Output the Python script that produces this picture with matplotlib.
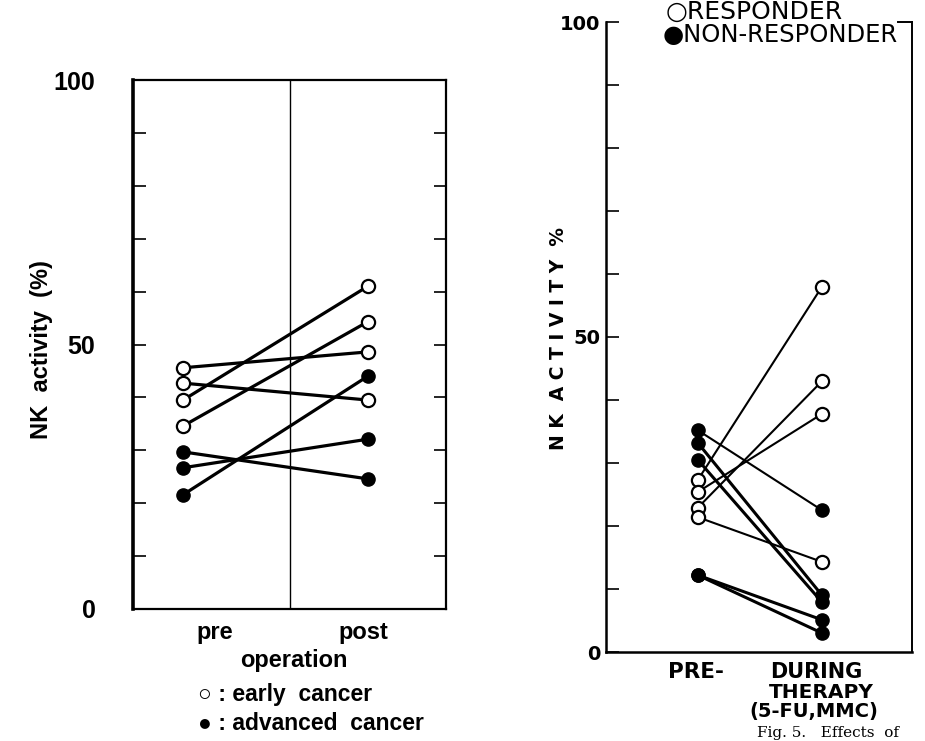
import numpy as np
import matplotlib
matplotlib.use('Agg')
import matplotlib.pyplot as plt

# left panel: NK activity pre/post operation
pre_early = [45.6, 42.7, 39.5, 34.6]
post_early = [48.6, 39.5, 61.0, 54.3]
pre_adv = [29.7, 26.7, 21.6]
post_adv = [24.6, 32.1, 44.0]

# right panel: NK activity pre/during therapy
pre_resp = [27.3, 22.9, 25.4, 21.4]
post_resp = [58.0, 43.0, 37.8, 14.3]
pre_non = [35.2, 33.2, 30.5, 12.2, 12.2]
post_non = [22.5, 9.0, 7.9, 5.1, 3.0]

W, H = 925, 741

def fx(px):
    return px / W

def fy(py):
    return 1 - py / H

fig = plt.figure(figsize=(9.25, 7.41), dpi=100)

helv = ['Liberation Sans', 'DejaVu Sans']
narrow = ['Liberation Sans Narrow', 'Liberation Sans', 'DejaVu Sans']

# ---------------- left panel ----------------
ax1 = fig.add_axes([fx(133), fy(609), fx(446) - fx(133), fy(80) - fy(609)])
x_pre, x_post = 0.16, 0.75
for a, b in zip(pre_early, post_early):
    ax1.plot([x_pre, x_post], [a, b], color='black', lw=2.3, zorder=2)
for a, b in zip(pre_adv, post_adv):
    ax1.plot([x_pre, x_post], [a, b], color='black', lw=2.3, zorder=2)
ax1.plot([x_pre] * len(pre_early), pre_early, 'o', ms=9.5, mfc='white', mec='black', mew=1.6, zorder=3)
ax1.plot([x_post] * len(post_early), post_early, 'o', ms=9.5, mfc='white', mec='black', mew=1.6, zorder=3)
ax1.plot([x_pre] * len(pre_adv), pre_adv, 'o', ms=9.5, mfc='black', mec='black', zorder=3)
ax1.plot([x_post] * len(post_adv), post_adv, 'o', ms=9.5, mfc='black', mec='black', zorder=3)
ax1.axvline(0.5, color='black', lw=1.0, zorder=1)
ax1.set_xlim(0, 1)
ax1.set_ylim(0, 100)
ax1.set_xticks([])
ax1.set_yticks(np.arange(0, 101, 10))
ax1.set_yticklabels(['0', '', '', '', '', '50', '', '', '', '', '100'])
ax1.tick_params(axis='y', direction='in', length=9, width=1.2, left=True, right=True, pad=27)
for lab in ax1.get_yticklabels():
    lab.set_family(narrow)
    lab.set_fontweight('bold')
    lab.set_fontsize(18)
ax1.spines['left'].set_linewidth(2.6)
for s in ['top', 'right', 'bottom']:
    ax1.spines[s].set_linewidth(1.6)

fig.text(fx(42), fy(350), 'NK  activity  (%)', rotation=90, ha='center', va='center',
         family=helv, fontweight='bold', fontsize=17)
fig.text(fx(215), fy(632), 'pre', ha='center', va='center', family=helv, fontweight='bold', fontsize=17)
fig.text(fx(363), fy(632), 'post', ha='center', va='center', family=helv, fontweight='bold', fontsize=17)
fig.text(fx(294), fy(661), 'operation', ha='center', va='center', family=helv, fontweight='bold', fontsize=17)
fig.text(fx(198), fy(694), '\u25cb : early  cancer', ha='left', va='center',
         family=helv, fontweight='bold', fontsize=16.5)
fig.text(fx(198), fy(723), '\u25cf : advanced  cancer', ha='left', va='center',
         family=helv, fontweight='bold', fontsize=16.5)

# ---------------- right panel ----------------
ax2 = fig.add_axes([fx(606), fy(652), fx(912) - fx(606), fy(22) - fy(652)])
r_pre, r_post = 0.30, 0.706
for a, b in zip(pre_resp, post_resp):
    ax2.plot([r_pre, r_post], [a, b], color='black', lw=1.5, zorder=2)
for i, (a, b) in enumerate(zip(pre_non, post_non)):
    lw = 1.5 if i == 0 else 2.2
    ax2.plot([r_pre, r_post], [a, b], color='black', lw=lw, zorder=2)
ax2.plot([r_pre] * len(pre_resp), pre_resp, 'o', ms=9.5, mfc='white', mec='black', mew=1.6, zorder=3)
ax2.plot([r_post] * len(post_resp), post_resp, 'o', ms=9.5, mfc='white', mec='black', mew=1.6, zorder=3)
ax2.plot([r_pre] * len(pre_non), pre_non, 'o', ms=9.5, mfc='black', mec='black', zorder=3)
ax2.plot([r_post] * len(post_non), post_non, 'o', ms=9.5, mfc='black', mec='black', zorder=3)
ax2.set_xlim(0, 1)
ax2.set_ylim(0, 100)
ax2.set_xticks([])
ax2.set_yticks(np.arange(0, 101, 10))
ax2.set_yticklabels(['0', '', '', '', '', '50', '', '', '', '', '100'])
ax2.tick_params(axis='y', direction='in', length=9, width=1.2, pad=4)
for lab in ax2.get_yticklabels():
    lab.set_fontweight('bold')
    lab.set_fontsize(14)
ax2.spines['top'].set_visible(False)
ax2.spines['left'].set_linewidth(1.8)
ax2.spines['right'].set_linewidth(1.4)
ax2.spines['bottom'].set_linewidth(1.8)
ax2.plot([0.955, 1.0], [1.0, 1.0], color='black', lw=1.4, transform=ax2.transAxes, clip_on=False)

fig.text(fx(558), fy(338), 'N K  A C T I V I T Y  %', rotation=90, ha='center', va='center',
         fontsize=13.5, fontweight='bold')
fig.text(fx(666), fy(12), '\u25cbRESPONDER', ha='left', va='center', fontsize=18)
fig.text(fx(663), fy(35), '\u25cfNON-RESPONDER', ha='left', va='center', fontsize=17.5)
fig.text(fx(696), fy(672), 'PRE-', ha='center', va='center', fontsize=15.5, fontweight='bold')
fig.text(fx(816), fy(672), 'DURING', ha='center', va='center', fontsize=15, fontweight='bold')
fig.text(fx(821), fy(692), 'THERAPY', ha='center', va='center', fontsize=14.5, fontweight='bold')
fig.text(fx(814), fy(711), '(5-FU,MMC)', ha='center', va='center', fontsize=14, fontweight='bold')
fig.text(fx(757), fy(740), 'Fig. 5.   Effects  of', ha='left', va='bottom',
         family='DejaVu Serif', fontsize=11)

fig.savefig('out.png', dpi=100)
